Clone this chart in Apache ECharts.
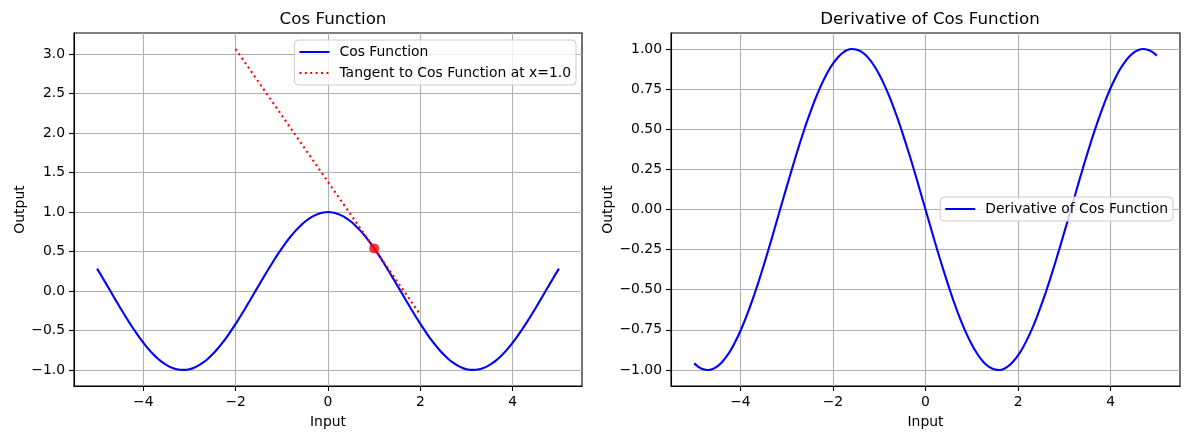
<!DOCTYPE html>
<html>
<head>
<meta charset="utf-8">
<script src="https://cdn.jsdelivr.net/npm/echarts@6/dist/echarts.min.js"></script>
<style>html,body{margin:0;padding:0;background:#fff}#c{width:1189px;height:440px}</style>
</head>
<body>
<div id="c"></div>
<script>
const xs = [-5.0,-4.9,-4.8,-4.7,-4.6,-4.5,-4.4,-4.3,-4.2,-4.1,-4.0,-3.9,-3.8,-3.7,-3.6,-3.5,-3.4,-3.3,-3.2,-3.1,
  -3.0,-2.9,-2.8,-2.7,-2.6,-2.5,-2.4,-2.3,-2.2,-2.1,-2.0,-1.9,-1.8,-1.7,-1.6,-1.5,-1.4,-1.3,-1.2,-1.1,
  -1.0,-0.9,-0.8,-0.7,-0.6,-0.5,-0.4,-0.3,-0.2,-0.1,0.0,0.1,0.2,0.3,0.4,0.5,0.6,0.7,0.8,0.9,
  1.0,1.1,1.2,1.3,1.4,1.5,1.6,1.7,1.8,1.9,2.0,2.1,2.2,2.3,2.4,2.5,2.6,2.7,2.8,2.9,
  3.0,3.1,3.2,3.3,3.4,3.5,3.6,3.7,3.8,3.9,4.0,4.1,4.2,4.3,4.4,4.5,4.6,4.7,4.8,4.9,5.0];
// Cos curve values
const cosVals = [0.284,0.187,0.087,-0.012,-0.112,-0.211,-0.307,-0.401,-0.490,-0.575,-0.654,-0.726,-0.791,-0.848,-0.897,-0.936,-0.967,-0.987,-0.998,-0.999,
  -0.990,-0.971,-0.942,-0.904,-0.857,-0.801,-0.737,-0.666,-0.589,-0.505,-0.416,-0.323,-0.227,-0.129,-0.029,0.071,0.170,0.267,0.362,0.454,
  0.540,0.622,0.697,0.765,0.825,0.878,0.921,0.955,0.980,0.995,1.000,0.995,0.980,0.955,0.921,0.878,0.825,0.765,0.697,0.622,
  0.540,0.454,0.362,0.267,0.170,0.071,-0.029,-0.129,-0.227,-0.323,-0.416,-0.505,-0.589,-0.666,-0.737,-0.801,-0.857,-0.904,-0.942,-0.971,
  -0.990,-0.999,-0.998,-0.987,-0.967,-0.936,-0.897,-0.848,-0.791,-0.726,-0.654,-0.575,-0.490,-0.401,-0.307,-0.211,-0.112,-0.012,0.087,0.187,0.284];
// Derivative curve values
const derivVals = [-0.959,-0.982,-0.996,-1.000,-0.994,-0.978,-0.952,-0.916,-0.872,-0.818,-0.757,-0.688,-0.612,-0.530,-0.443,-0.351,-0.256,-0.158,-0.058,0.042,
  0.141,0.239,0.335,0.427,0.516,0.598,0.675,0.746,0.808,0.863,0.909,0.946,0.974,0.992,1.000,0.997,0.985,0.964,0.932,0.891,
  0.841,0.783,0.717,0.644,0.565,0.479,0.389,0.296,0.199,0.100,0.000,-0.100,-0.199,-0.296,-0.389,-0.479,-0.565,-0.644,-0.717,-0.783,
  -0.841,-0.891,-0.932,-0.964,-0.985,-0.997,-1.000,-0.992,-0.974,-0.946,-0.909,-0.863,-0.808,-0.746,-0.675,-0.598,-0.516,-0.427,-0.335,-0.239,
  -0.141,-0.042,0.058,0.158,0.256,0.351,0.443,0.530,0.612,0.688,0.757,0.818,0.872,0.916,0.952,0.978,0.994,1.000,0.996,0.982,0.959];
// Tangent line end points
const tangentX = [-2.0, 2.0];
const tangentY = [3.065, -0.301];
// Point of tangency
const pointX = [1.0];
const pointY = [0.540];
// Tick values
const xTicks = [-4,-2,0,2,4];
const yTicksLeft = [-1.0,-0.5,0.0,0.5,1.0,1.5,2.0,2.5,3.0];
const yTicksRight = [-1.0,-0.75,-0.5,-0.25,0.0,0.25,0.5,0.75,1.0];

const FONT = 'DejaVu Sans';
const FS = 13.9;
const zip = (a,b) => a.map((v,i)=>[v,b[i]]);
const fmt = d => v => (v < -1e-9 ? '\u2212' : '') + Math.abs(v).toFixed(d);

function xAxis(gi){
  return {
    type:'value', gridIndex:gi, min:-5.5, max:5.5,
    name:'Input', nameLocation:'middle', nameGap:29,
    nameTextStyle:{fontFamily:FONT,fontSize:FS,color:'#000'},
    axisLine:{show:true,onZero:false,lineStyle:{color:'#000',width:1.1}},
    axisTick:{show:true,length:5,lineStyle:{color:'#000',width:1.1},customValues:xTicks},
    axisLabel:{fontFamily:FONT,fontSize:FS,color:'#000',margin:9,formatter:fmt(0),customValues:xTicks},
    splitLine:{show:true,lineStyle:{color:'#b0b0b0',width:1.1}}
  };
}
function yAxis(gi,min,max,ticks,dec,gap){
  return {
    type:'value', gridIndex:gi, min:min, max:max,
    name:'Output', nameLocation:'middle', nameGap:gap,
    nameTextStyle:{fontFamily:FONT,fontSize:FS,color:'#000'},
    axisLine:{show:true,onZero:false,lineStyle:{color:'#000',width:1.1}},
    axisTick:{show:true,length:5,lineStyle:{color:'#000',width:1.1},customValues:ticks},
    axisLabel:{fontFamily:FONT,fontSize:FS,color:'#000',margin:9,formatter:fmt(dec),customValues:ticks},
    splitLine:{show:true,lineStyle:{color:'#b0b0b0',width:1.1}}
  };
}
const legendBase = {
  orient:'vertical', backgroundColor:'rgba(255,255,255,0.8)', borderColor:'#cccccc', borderWidth:1, borderRadius:4,
  padding:[5,5,5,4], itemWidth:30, itemHeight:14, itemGap:7,
  itemStyle:{opacity:0},
  textStyle:{fontFamily:FONT,fontSize:FS,color:'#000',padding:[0,0,0,5]}
};

const chart = echarts.init(document.getElementById('c'), null, {renderer:'canvas'});
chart.setOption({
  animation:false,
  backgroundColor:'#fff',
  title:[
    {text:'Cos Function', left:328, top:6, textAlign:'center', textStyle:{fontFamily:FONT,fontSize:16.7,fontWeight:'normal',color:'#000'}},
    {text:'Derivative of Cos Function', left:925, top:6, textAlign:'center', textStyle:{fontFamily:FONT,fontSize:16.7,fontWeight:'normal',color:'#000'}}
  ],
  grid:[
    {left:74, top:33, width:508, height:353, show:true, borderColor:'#000', borderWidth:1.1, backgroundColor:'transparent'},
    {left:671, top:33, width:509, height:353, show:true, borderColor:'#000', borderWidth:1.1, backgroundColor:'transparent'}
  ],
  xAxis:[xAxis(0), xAxis(1)],
  yAxis:[yAxis(0,-1.203,3.268,yTicksLeft,1,47), yAxis(1,-1.1,1.1,yTicksRight,2,55)],
  legend:[
    Object.assign({}, legendBase, {right:613, top:40, data:['Cos Function','Tangent to Cos Function at x=1.0']}),
    Object.assign({}, legendBase, {right:16, top:197, data:['Derivative of Cos Function']})
  ],
  series:[
    {name:'Cos Function', type:'line', xAxisIndex:0, yAxisIndex:0, data:zip(xs,cosVals), showSymbol:false, symbol:'none', smooth:0.2,
      lineStyle:{color:'#0000ff',width:2.1}, itemStyle:{color:'#0000ff'}},
    {name:'Tangent to Cos Function at x=1.0', type:'line', xAxisIndex:0, yAxisIndex:0, data:zip(tangentX,tangentY), showSymbol:false, symbol:'none',
      lineStyle:{color:'#ff0000',width:2.1,type:[2,3.4],cap:'butt'}, itemStyle:{color:'#ff0000'}},
    {name:'point', type:'scatter', xAxisIndex:0, yAxisIndex:0, data:zip(pointX,pointY), symbolSize:10, itemStyle:{color:'#ff0000'}, z:5},
    {name:'Derivative of Cos Function', type:'line', xAxisIndex:1, yAxisIndex:1, data:zip(xs,derivVals), showSymbol:false, symbol:'none', smooth:0.2,
      lineStyle:{color:'#0000ff',width:2.1}, itemStyle:{color:'#0000ff'}}
  ]
});
</script>
</body>
</html>
